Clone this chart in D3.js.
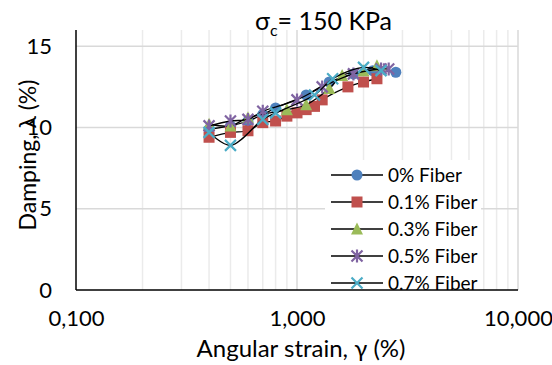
<!DOCTYPE html>
<html lang="en">
    <head>
        <meta charset="UTF-8" />
        <title>Damping vs angular strain</title>
        <style>
            body { margin: 0; background: #fff; }
            .chart { width: 552px; height: 365px; }
            text { font-family: Lato, "Open Sans", sans-serif; fill: #000; }
        </style>
    </head>
    <body>
        <div class="chart"></div>

        <script src="https://d3js.org/d3.v7.min.js"></script>

        <script>
            // series
            const seriesNames = ['0% Fiber', '0.1% Fiber', '0.3% Fiber', '0.5% Fiber', '0.7% Fiber']

            const strain0 = [0.4, 0.5, 0.6, 0.7, 0.8, 1.1, 1.4, 1.8, 2.2, 2.8]
            const damping0 = [9.9, 10.1, 10.4, 10.8, 11.2, 12.0, 12.8, 13.3, 13.5, 13.4]

            const strain01 = [0.4, 0.5, 0.6, 0.7, 0.8, 0.9, 1.0, 1.1, 1.2, 1.3, 1.7, 2.0, 2.3]
            const damping01 = [9.4, 9.7, 9.8, 10.3, 10.4, 10.7, 10.9, 11.1, 11.3, 11.7, 12.5, 12.8, 13.0]

            const strain03 = [0.4, 0.5, 0.6, 0.9, 1.1, 1.4, 1.6, 2.0, 2.3]
            const damping03 = [10.2, 10.1, 10.6, 11.1, 11.4, 12.4, 13.2, 13.5, 13.8]

            const strain05 = [0.4, 0.5, 0.6, 0.7, 1.0, 1.3, 1.8, 2.4, 2.6]
            const damping05 = [10.1, 10.4, 10.5, 11.0, 11.7, 12.5, 13.3, 13.6, 13.6]

            const strain07 = [0.4, 0.5, 0.7, 0.8, 1.2, 1.45, 2.0, 2.4]
            const damping07 = [9.7, 8.9, 10.5, 10.9, 12.0, 13.0, 13.7, 13.5]

            const xTickValues = [0.1, 1, 10]
            const xTickLabels = ['0,100', '1,000', '10,000']
            const yTickValues = [0, 5, 10, 15]

            const colors = ['#4F81BD', '#C0504D', '#9BBB59', '#8064A2', '#4BACC6']
            const shapes = ['circle', 'square', 'triangle', 'star', 'x']

            const series = [
              [strain0, damping0], [strain01, damping01], [strain03, damping03],
              [strain05, damping05], [strain07, damping07]
            ].map(([xs, ys], i) => ({
              name: seriesNames[i],
              color: colors[i],
              shape: shapes[i],
              points: xs.map((x, j) => ({ x: x, y: ys[j] }))
            }))

            const width = 552
            const height = 365
            const plotLeft = 76, plotRight = 518, plotTop = 30, plotBottom = 290

            const svg = d3.select('.chart')
              .append('svg')
              .attr('width', width)
              .attr('height', height)

            const xScale = d3.scaleLog().domain([0.1, 10]).range([plotLeft, plotRight])
            const yScale = d3.scaleLinear().domain([0, 16]).range([plotBottom, plotTop])

            // grid lines
            const minorX = xScale.ticks().filter(v => !xTickValues.includes(v))
            svg.append('g').selectAll('line')
              .data(minorX)
              .join('line')
              .attr('x1', d => xScale(d)).attr('x2', d => xScale(d))
              .attr('y1', plotTop).attr('y2', plotBottom)
              .style('stroke', '#EBEBEB')
              .style('stroke-width', 1.5)

            svg.append('g').selectAll('line')
              .data(xTickValues.slice(1))
              .join('line')
              .attr('x1', d => xScale(d)).attr('x2', d => xScale(d))
              .attr('y1', plotTop).attr('y2', plotBottom)
              .style('stroke', '#D9D9D9')
              .style('stroke-width', 1.5)

            svg.append('g').selectAll('line')
              .data(yTickValues.slice(1))
              .join('line')
              .attr('x1', plotLeft).attr('x2', plotRight)
              .attr('y1', d => yScale(d)).attr('y2', d => yScale(d))
              .style('stroke', '#D9D9D9')
              .style('stroke-width', 1.5)

            // axes
            const xAxis = d3.axisBottom(xScale)
              .tickValues(xTickValues)
              .tickFormat((d, i) => xTickLabels[i])
              .tickSize(0)
              .tickPadding(20)

            const xAxisGroup = svg.append('g')
              .attr('transform', `translate(0, ${plotBottom})`)
              .call(xAxis)
            xAxisGroup.select('.domain').remove()
            xAxisGroup.selectAll('text').style('font-size', '22px').style('font-family', 'Lato, sans-serif')

            const yAxis = d3.axisLeft(yScale)
              .tickValues(yTickValues)
              .tickSize(0)
              .tickPadding(24)

            const yAxisGroup = svg.append('g')
              .attr('transform', `translate(${plotLeft}, 0)`)
              .call(yAxis)
            yAxisGroup.select('.domain').remove()
            yAxisGroup.selectAll('text').style('font-size', '22px').style('font-family', 'Lato, sans-serif')

            svg.append('line')
              .attr('x1', plotLeft).attr('x2', plotLeft).attr('y1', plotTop).attr('y2', plotBottom)
              .style('stroke', '#000').style('stroke-width', 1.5)
            svg.append('line')
              .attr('x1', plotLeft).attr('x2', plotRight).attr('y1', plotBottom).attr('y2', plotBottom)
              .style('stroke', '#000').style('stroke-width', 1.5)

            // markers
            const drawMarker = (g, shape, color) => {
              const r = 5.5
              if (shape === 'circle') {
                g.append('circle').attr('r', r).attr('fill', color)
              } else if (shape === 'square') {
                g.append('rect').attr('x', -r).attr('y', -r).attr('width', 2 * r).attr('height', 2 * r).attr('fill', color)
              } else if (shape === 'triangle') {
                g.append('path').attr('d', `M0,${-r - 1}L${r + 0.5},${r}L${-r - 0.5},${r}Z`).attr('fill', color)
              } else if (shape === 'star') {
                g.append('path')
                  .attr('d', `M${-r},${-r}L${r},${r}M${-r},${r}L${r},${-r}M0,${-r - 1}L0,${r + 1}`)
                  .style('stroke', color).style('stroke-width', 2.2).attr('fill', 'none')
              } else {
                g.append('path')
                  .attr('d', `M${-r},${-r}L${r},${r}M${-r},${r}L${r},${-r}`)
                  .style('stroke', color).style('stroke-width', 2.2).attr('fill', 'none')
              }
            }

            const line = d3.line()
              .x(d => xScale(d.x))
              .y(d => yScale(d.y))
              .curve(d3.curveCatmullRom.alpha(0.5))

            series.forEach(s => {
              const g = svg.append('g')
              g.append('path')
                .datum(s.points)
                .attr('d', line)
                .attr('fill', 'none')
                .style('stroke', '#000')
                .style('stroke-width', 1.3)

              g.selectAll('g')
                .data(s.points)
                .join('g')
                .attr('transform', d => `translate(${xScale(d.x)}, ${yScale(d.y)})`)
                .each(function () { drawMarker(d3.select(this), s.shape, s.color) })
            })

            // legend
            const legend = svg.append('g')
            legend.append('rect')
              .attr('x', 325).attr('y', 160)
              .attr('width', 156).attr('height', plotBottom - 160 - 1)
              .attr('fill', '#fff')

            const legendRows = legend.selectAll('g')
              .data(series)
              .join('g')
              .attr('transform', (d, i) => `translate(357, ${175 + i * 27})`)

            legendRows.append('line')
              .attr('x1', -26).attr('x2', 26)
              .style('stroke', '#000').style('stroke-width', 1.3)
            legendRows.each(function (d) { drawMarker(d3.select(this), d.shape, d.color) })
            legendRows.append('text')
              .attr('x', 31)
              .attr('dy', '0.35em')
              .style('font-size', '19px')
              .text(d => d.name)

            // titles
            const title = svg.append('text')
              .attr('x', 255).attr('y', 30)
              .style('font-size', '25px')
            title.append('tspan').text('σ')
            title.append('tspan').attr('dy', 6).style('font-size', '16px').text('c')
            title.append('tspan').attr('dy', -6).text('= 150 KPa')

            svg.append('text')
              .attr('x', (plotLeft + plotRight) / 2 + 4).attr('y', 357)
              .style('text-anchor', 'middle')
              .style('font-size', '24px')
              .text('Angular strain, γ (%)')

            svg.append('text')
              .attr('transform', `translate(36, ${(plotTop + plotBottom) / 2 - 5}) rotate(-90)`)
              .style('text-anchor', 'middle')
              .style('font-size', '23px')
              .text('Damping, λ (%)')
        </script>
    </body>
</html>
